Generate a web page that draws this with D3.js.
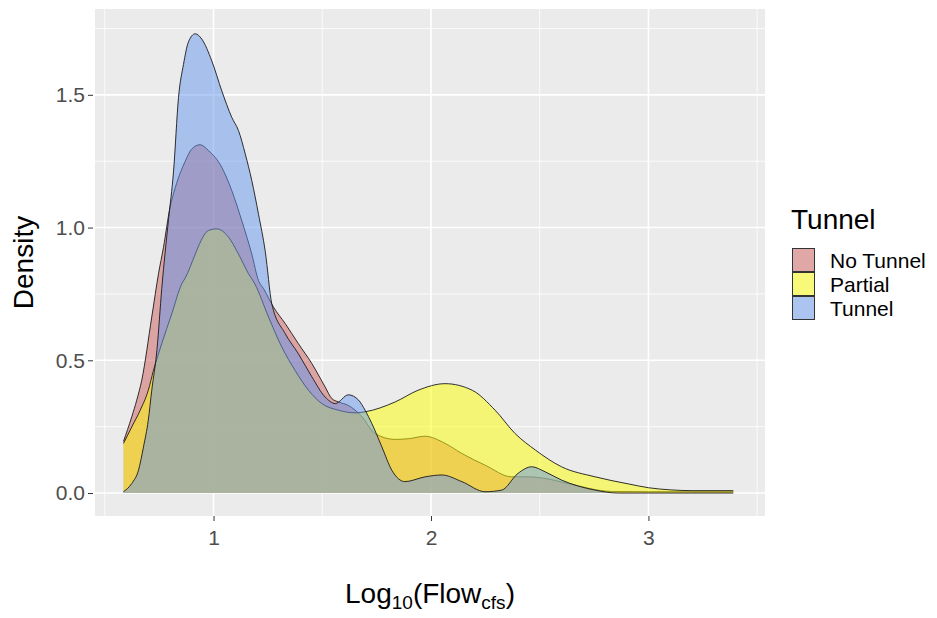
<!DOCTYPE html>
<html>
<head>
<meta charset="utf-8">
<script src="https://cdn.jsdelivr.net/npm/d3@7"></script>
<style>
  html, body { margin: 0; padding: 0; background: #ffffff; }
  svg { display: block; }
  text { font-family: "Liberation Sans", Arial, sans-serif; }
</style>
</head>
<body>
<svg id="chart" width="937" height="618"></svg>
<script>
// ---- Data ----
const categories = ["No Tunnel", "Partial", "Tunnel"];
const fillColors = ["#cd5c5c", "#ffff00", "#6495ed"];

const noTunnelX = [0.586,0.624,0.647,0.67,0.716,0.747,0.77,0.80,0.824,0.87,0.90,0.938,0.977,1.038,1.084,1.13,1.176,1.207,1.23,1.276,1.33,1.39,1.452,1.513,1.544,1.575,1.62,1.68,1.743,1.835,1.90,1.973,2.065,2.142,2.249,2.371,2.448,2.525,2.63,2.83,3.0,3.39];
const noTunnelY = [0.195,0.287,0.35,0.425,0.663,0.826,0.926,1.076,1.15,1.25,1.296,1.312,1.29,1.227,1.139,1.026,0.90,0.80,0.77,0.70,0.638,0.563,0.488,0.40,0.356,0.343,0.33,0.29,0.224,0.202,0.205,0.214,0.187,0.149,0.105,0.061,0.061,0.055,0.036,0.006,0.005,0.005];

const partialX = [0.586,0.624,0.663,0.70,0.724,0.762,0.808,0.854,0.87,0.916,0.931,0.977,1.015,1.069,1.115,1.161,1.19,1.253,1.314,1.375,1.437,1.498,1.575,1.651,1.697,1.835,1.94,2.065,2.19,2.295,2.387,2.48,2.60,2.755,2.91,3.0,3.1,3.2,3.39];
const partialY = [0.187,0.249,0.312,0.387,0.462,0.563,0.675,0.788,0.81,0.90,0.93,0.989,0.995,0.964,0.90,0.826,0.788,0.663,0.55,0.462,0.387,0.337,0.312,0.302,0.306,0.343,0.387,0.412,0.387,0.312,0.224,0.162,0.099,0.061,0.034,0.02,0.012,0.009,0.009];

const tunnelX = [0.586,0.624,0.655,0.678,0.70,0.716,0.74,0.762,0.793,0.816,0.839,0.862,0.885,0.916,0.946,0.992,1.038,1.084,1.115,1.146,1.176,1.207,1.238,1.268,1.33,1.39,1.452,1.513,1.56,1.62,1.667,1.697,1.728,1.774,1.82,1.88,1.973,2.05,2.142,2.249,2.325,2.40,2.463,2.525,2.60,2.755,2.86,3.0,3.39];
const tunnelY = [0.005,0.036,0.086,0.174,0.274,0.387,0.54,0.77,1.03,1.21,1.49,1.615,1.70,1.73,1.71,1.628,1.515,1.415,1.365,1.277,1.177,1.05,0.91,0.713,0.60,0.525,0.438,0.362,0.337,0.37,0.35,0.312,0.262,0.174,0.086,0.043,0.061,0.068,0.043,0.005,0.011,0.074,0.099,0.080,0.049,0.011,0.0,0.0,0.0];

const xTicks = [1, 2, 3];
const xMinor = [0.5, 1.5, 2.5, 3.5];
const yTicks = [0, 0.5, 1.0, 1.5];
const yTickLabels = ["0.0", "0.5", "1.0", "1.5"];
const yMinor = [0.25, 0.75, 1.25, 1.75];

const seriesX = [noTunnelX, partialX, tunnelX];
const seriesY = [noTunnelY, partialY, tunnelY];

// ---- Layout ----
const svg = d3.select("#chart");
const panel = { left: 95, right: 765, top: 9, bottom: 516 };
const x = d3.scaleLinear().domain([0.455, 3.536]).range([panel.left, panel.right]);
const y = d3.scaleLinear().domain([-0.0865, 1.8233]).range([panel.bottom, panel.top]);

// panel background
svg.append("rect")
  .attr("x", panel.left).attr("y", panel.top)
  .attr("width", panel.right - panel.left).attr("height", panel.bottom - panel.top)
  .attr("fill", "#EBEBEB");

const grid = svg.append("g");
grid.selectAll("line.xmin").data(xMinor).join("line")
  .attr("x1", d => x(d)).attr("x2", d => x(d))
  .attr("y1", panel.top).attr("y2", panel.bottom)
  .attr("stroke", "#ffffff").attr("stroke-width", 0.8);
grid.selectAll("line.ymin").data(yMinor).join("line")
  .attr("y1", d => y(d)).attr("y2", d => y(d))
  .attr("x1", panel.left).attr("x2", panel.right)
  .attr("stroke", "#ffffff").attr("stroke-width", 0.8);
grid.selectAll("line.xmaj").data(xTicks).join("line")
  .attr("x1", d => x(d)).attr("x2", d => x(d))
  .attr("y1", panel.top).attr("y2", panel.bottom)
  .attr("stroke", "#ffffff").attr("stroke-width", 1.6);
grid.selectAll("line.ymaj").data(yTicks).join("line")
  .attr("y1", d => y(d)).attr("y2", d => y(d))
  .attr("x1", panel.left).attr("x2", panel.right)
  .attr("stroke", "#ffffff").attr("stroke-width", 1.6);

// ---- Densities ----
const area = d3.area()
  .x(d => x(d[0])).y0(y(0)).y1(d => y(d[1]))
  .curve(d3.curveMonotoneX);
const line = d3.line()
  .x(d => x(d[0])).y(d => y(d[1]))
  .curve(d3.curveMonotoneX);

categories.forEach((cat, i) => {
  const pts = seriesX[i].map((v, j) => [v, seriesY[i][j]]);
  const g = svg.append("g");
  g.append("path").attr("d", area(pts))
    .attr("fill", fillColors[i]).attr("fill-opacity", 0.5);
  g.append("path").attr("d", line(pts))
    .attr("fill", "none").attr("stroke", "#1a1a1a").attr("stroke-width", 0.9);
});

// ---- Axes ----
const xAxis = d3.axisBottom(x).tickValues(xTicks).tickSize(5).tickPadding(9)
  .tickFormat(d3.format("d"));
const gx = svg.append("g").attr("transform", `translate(0,${panel.bottom})`).call(xAxis);
gx.select(".domain").remove();
gx.selectAll(".tick line").attr("stroke", "#333333").attr("stroke-width", 1);
gx.selectAll(".tick text").attr("fill", "#4D4D4D").attr("font-size", 21)
  .attr("font-family", "Liberation Sans, Arial, sans-serif");

const yAxis = d3.axisLeft(y).tickValues(yTicks).tickSize(5).tickPadding(3)
  .tickFormat((d, i) => yTickLabels[i]);
const gy = svg.append("g").attr("transform", `translate(${panel.left - 2},0)`).call(yAxis);
gy.select(".domain").remove();
gy.selectAll(".tick line").attr("stroke", "#333333").attr("stroke-width", 1);
gy.selectAll(".tick text").attr("fill", "#4D4D4D").attr("font-size", 21)
  .attr("font-family", "Liberation Sans, Arial, sans-serif");

// axis titles
svg.append("text")
  .attr("transform", `translate(33,${(panel.top + panel.bottom) / 2}) rotate(-90)`)
  .attr("text-anchor", "middle").attr("font-size", 28).attr("fill", "#000")
  .text("Density");

const xt = svg.append("text")
  .attr("x", (panel.left + panel.right) / 2).attr("y", 603)
  .attr("text-anchor", "middle").attr("font-size", 28).attr("fill", "#000");
xt.append("tspan").text("Log");
xt.append("tspan").attr("font-size", 19).attr("dy", 6).text("10");
xt.append("tspan").attr("dy", -6).text("(Flow");
xt.append("tspan").attr("font-size", 19).attr("dy", 6).text("cfs");
xt.append("tspan").attr("dy", -6).text(")");

// ---- Legend ----
const leg = svg.append("g");
leg.append("text").attr("x", 791).attr("y", 229)
  .attr("font-size", 28).attr("fill", "#000").text("Tunnel");
categories.forEach((cat, i) => {
  const ky = 248 + i * 24;
  leg.append("rect").attr("x", 792).attr("y", ky).attr("width", 23).attr("height", 24)
    .attr("fill", "#F2F2F2");
  leg.append("rect").attr("x", 792.5).attr("y", ky + 0.5).attr("width", 22).attr("height", 23)
    .attr("fill", fillColors[i]).attr("fill-opacity", 0.5)
    .attr("stroke", "#333333").attr("stroke-width", 1);
  leg.append("text").attr("x", 830).attr("y", ky + 12 + 7.5)
    .attr("font-size", 21).attr("fill", "#000").text(cat);
});
</script>
</body>
</html>
